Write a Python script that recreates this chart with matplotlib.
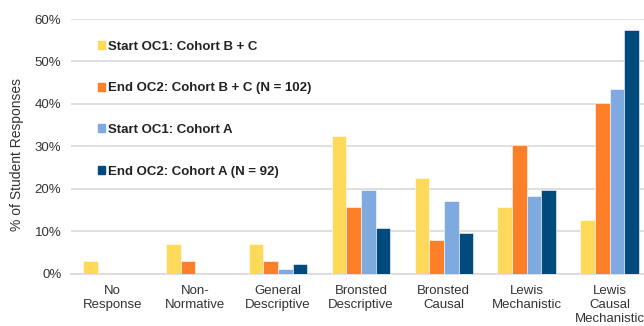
import matplotlib
matplotlib.use("Agg")
import matplotlib.pyplot as plt
import matplotlib.patches as mpatches
from matplotlib.ticker import PercentFormatter
import numpy as np

plt.rcParams["font.family"] = ["Liberation Sans", "DejaVu Sans"]

categories = ["No\nResponse", "Non-\nNormative", "General\nDescriptive",
              "Bronsted\nDescriptive", "Bronsted\nCausal", "Lewis\nMechanistic",
              "Lewis\nCausal\nMechanistic"]
series_names = ["Start OC1: Cohort B + C", "End OC2: Cohort B + C (N = 102)",
                "Start OC1: Cohort A", "End OC2: Cohort A (N = 92)"]
start_bc = [3.0, 7.0, 7.0, 32.3, 22.4, 15.6, 12.5]
end_bc = [0.0, 3.0, 3.0, 15.6, 7.8, 30.3, 40.2]
start_a = [0.0, 0.0, 1.1, 19.6, 17.2, 18.2, 43.4]
end_a = [0.0, 0.0, 2.2, 10.7, 9.6, 19.6, 57.5]
colors = ["#FFD95A", "#FD7F28", "#7FAADF", "#004B7C"]

fig = plt.figure(figsize=(6.44, 3.26), dpi=100)
ax = fig.add_axes([71 / 644, 52.5 / 326, 580 / 644, 254.5 / 326])

x = np.arange(len(categories))
w = 0.177
all_series = [start_bc, end_bc, start_a, end_a]
for i, (vals, c) in enumerate(zip(all_series, colors)):
    ax.bar(x + (i - 1.5) * w, vals, w, color=c, edgecolor="white", linewidth=0.4,
           zorder=3)

ax.set_xlim(-0.5, len(categories) - 0.5)
ax.set_ylim(0, 60)
ax.set_yticks(range(0, 61, 10))
ax.yaxis.set_major_formatter(PercentFormatter(decimals=0))
ax.grid(axis="y", color="#D9D9D9", linewidth=1.2, zorder=0)
ax.set_xticks(x)
ax.set_xticklabels(categories, fontsize=9.5, color="#333333", linespacing=1.25)
ax.tick_params(axis="y", length=0, labelsize=9.5, colors="#333333", pad=7)
ax.tick_params(axis="x", length=0, colors="#333333", pad=8)
for s in ["top", "right", "left"]:
    ax.spines[s].set_visible(False)
ax.spines["bottom"].set_color("#D9D9D9")
ax.spines["bottom"].set_linewidth(1.2)
ax.set_ylabel("% of Student Responses", fontsize=10, color="#333333")
ax.yaxis.set_label_coords(-0.081, 0.466)

handles = [mpatches.Patch(color=c, label=n) for c, n in zip(colors, series_names)]
leg = ax.legend(handles=handles, loc="upper left", bbox_to_anchor=(91 / 644, 1 - 34 / 326),
                bbox_transform=fig.transFigure, frameon=False, borderpad=0,
                handlelength=0.55, handleheight=0.55, handletextpad=0.25,
                labelspacing=2.25, prop={"weight": "bold", "size": 9.5})
for t in leg.get_texts():
    t.set_color("#222222")

fig.savefig("out.png", dpi=100)
